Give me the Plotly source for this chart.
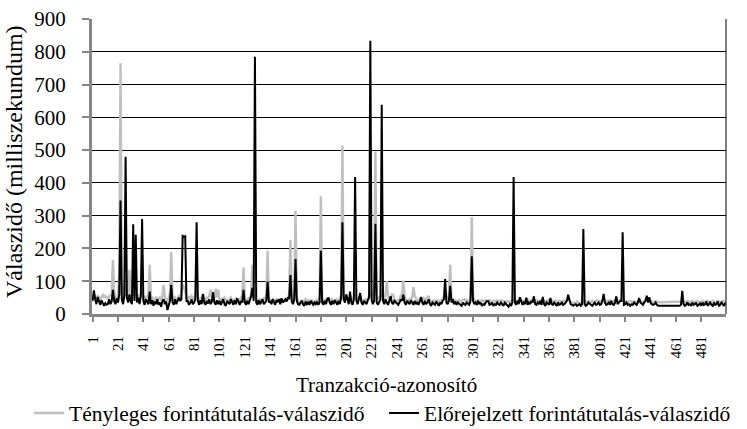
import plotly.graph_objects as go

# Transaction IDs 1..500
tranzakcio = list(range(1, 501))

# Actual response time (ms) – grey series
tenyleges = [
    55, 60, 50, 48, 55, 52, 45, 50, 58, 52, 55, 50, 48, 54, 56, 60, 165, 70, 45, 50,
    55, 120, 765, 60, 50, 90, 60, 55, 70, 135, 60, 50, 75, 55, 65, 50, 60, 45, 55, 70,
    50, 45, 55, 50, 60, 150, 55, 50, 45, 40, 50, 48, 45, 50, 42, 55, 89, 50, 45, 40,
    50, 60, 189, 55, 45, 50, 42, 48, 55, 50, 60, 90, 80, 70, 50, 45, 52, 48, 55, 50,
    45, 55, 80, 50, 45, 48, 50, 60, 45, 42, 50, 48, 55, 74, 50, 60, 48, 77, 50, 74,
    45, 40, 48, 42, 50, 45, 40, 38, 45, 50, 42, 40, 45, 48, 40, 42, 45, 50, 60, 142,
    45, 40, 42, 48, 50, 60, 150, 55, 60, 45, 40, 38, 45, 42, 40, 48, 45, 60, 194, 50,
    40, 38, 45, 42, 40, 45, 42, 40, 45, 42, 40, 38, 45, 42, 50, 60, 226, 55, 45, 60,
    316, 50, 40, 38, 35, 42, 40, 38, 45, 40, 42, 38, 40, 42, 38, 35, 40, 42, 45, 55,
    359, 50, 40, 38, 45, 42, 48, 40, 38, 45, 40, 42, 45, 40, 42, 48, 60, 514, 60, 45,
    50, 45, 40, 55, 45, 42, 50, 60, 48, 42, 50, 55, 45, 40, 42, 45, 40, 45, 55, 70,
    55, 50, 80, 496, 60, 45, 50, 55, 70, 50, 45, 60, 101, 50, 45, 50, 60, 59, 45, 40,
    40, 42, 45, 55, 60, 102, 55, 45, 42, 40, 45, 42, 50, 82, 55, 45, 40, 42, 45, 50,
    45, 48, 42, 45, 50, 55, 42, 38, 40, 42, 38, 40, 42, 38, 40, 42, 45, 50, 60, 45,
    45, 60, 150, 50, 45, 40, 42, 38, 40, 42, 38, 40, 42, 45, 40, 42, 38, 40, 50, 296,
    50, 42, 38, 40, 42, 38, 40, 42, 38, 40, 42, 38, 40, 42, 38, 35, 40, 38, 40, 42,
    38, 40, 42, 38, 40, 38, 35, 40, 38, 35, 40, 42, 45, 42, 38, 40, 42, 45, 40, 38,
    40, 38, 42, 45, 40, 38, 42, 40, 45, 38, 40, 42, 38, 40, 42, 45, 40, 38, 40, 42,
    38, 40, 42, 38, 35, 40, 38, 36, 40, 38, 35, 40, 38, 40, 42, 45, 40, 38, 35, 32,
    35, 32, 38, 35, 32, 35, 38, 40, 35, 32, 38, 40, 35, 38, 40, 35, 38, 40, 42, 38,
    40, 38, 42, 45, 40, 38, 40, 38, 42, 40, 38, 40, 42, 45, 40, 38, 42, 45, 40, 38,
    40, 38, 36, 38, 40, 38, 36, 40, 38, 36, 38, 40, 38, 36, 38, 40, 42, 45, 40, 42,
    40, 38, 36, 38, 40, 38, 36, 36, 36, 36, 36, 36, 36, 36, 36, 36, 36, 36, 36, 36,
    36, 36, 36, 36, 38, 45, 38, 36, 38, 40, 38, 36, 38, 40, 38, 36, 38, 40, 38, 36,
    38, 40, 38, 36, 38, 40, 38, 36, 38, 40, 38, 36, 38, 40, 38, 36, 38, 40, 38, 36,
]

# Predicted response time (ms) – black series
elorejelzett = [
    40, 72, 45, 30, 52, 35, 28, 42, 30, 25, 33, 28, 30, 45, 30, 38, 74, 40, 30, 48,
    35, 60, 346, 45, 30, 55, 480, 50, 35, 60, 40, 30, 274, 40, 242, 35, 50, 30, 55, 290,
    40, 28, 45, 35, 30, 68, 30, 42, 25, 38, 30, 45, 28, 35, 22, 40, 45, 30, 38, 12,
    30, 40, 89, 35, 28, 45, 30, 38, 50, 40, 45, 238, 236, 237, 40, 40, 28, 35, 45, 30,
    35, 45, 280, 40, 28, 42, 30, 61, 35, 28, 40, 32, 45, 30, 38, 67, 35, 28, 42, 30,
    40, 28, 35, 45, 30, 25, 40, 35, 30, 45, 38, 28, 42, 30, 48, 35, 28, 40, 35, 74,
    35, 28, 40, 30, 45, 55, 80, 40, 785, 35, 28, 42, 30, 38, 45, 30, 35, 40, 99, 35,
    40, 30, 45, 35, 28, 42, 38, 45, 30, 48, 35, 40, 45, 38, 50, 45, 119, 40, 30, 45,
    168, 40, 30, 28, 35, 40, 30, 25, 38, 30, 35, 28, 40, 32, 28, 35, 30, 38, 28, 35,
    193, 35, 28, 40, 30, 45, 50, 35, 28, 40, 30, 42, 35, 28, 40, 30, 50, 280, 45, 35,
    60, 40, 30, 68, 35, 28, 45, 418, 40, 30, 45, 64, 35, 28, 40, 35, 30, 42, 50, 834,
    45, 30, 40, 275, 35, 28, 40, 45, 638, 40, 30, 45, 35, 28, 40, 54, 35, 30, 40, 35,
    30, 28, 35, 45, 40, 59, 35, 28, 40, 35, 30, 42, 35, 28, 40, 30, 35, 28, 38, 51,
    35, 28, 40, 30, 35, 45, 30, 25, 35, 30, 28, 38, 30, 25, 35, 30, 40, 45, 107, 35,
    30, 40, 86, 35, 45, 30, 38, 28, 35, 30, 28, 25, 35, 30, 28, 35, 30, 28, 40, 176,
    40, 30, 35, 28, 40, 30, 35, 25, 30, 28, 35, 40, 40, 28, 30, 35, 25, 30, 28, 35,
    30, 28, 35, 30, 25, 35, 30, 28, 22, 30, 25, 35, 418, 35, 28, 40, 30, 51, 35, 28,
    35, 30, 50, 28, 35, 30, 40, 35, 54, 30, 28, 35, 30, 40, 28, 52, 30, 25, 35, 30,
    28, 49, 30, 28, 35, 30, 25, 35, 28, 30, 35, 28, 30, 35, 40, 59, 40, 30, 28, 25,
    28, 30, 25, 28, 30, 25, 30, 259, 30, 25, 28, 35, 30, 28, 25, 30, 35, 28, 30, 35,
    28, 30, 40, 61, 35, 28, 30, 35, 28, 40, 30, 28, 35, 54, 30, 35, 40, 40, 249, 28,
    30, 35, 28, 30, 25, 30, 28, 35, 30, 28, 35, 49, 35, 30, 28, 35, 40, 56, 35, 51,
    35, 30, 28, 30, 35, 28, 25, 25, 25, 25, 25, 25, 25, 25, 25, 25, 25, 25, 25, 25,
    25, 25, 25, 25, 28, 71, 30, 25, 28, 35, 28, 30, 25, 35, 28, 30, 35, 25, 28, 32,
    25, 35, 28, 30, 38, 25, 30, 35, 28, 25, 35, 28, 30, 38, 25, 28, 35, 30, 25, 35,
]

tick_labels = [str(v) for v in range(1, 500, 20)]
tick_vals = list(range(1, 500, 20))
y_ticks = list(range(0, 901, 100))

FONT = "'Liberation Serif', 'Times New Roman', Times, serif"

L, R, T, B = 92, 21, 19, 115
PW, PH = 747 - L - R, 429 - T - B


def px_x(px):
    return (px - L) / PW


def px_y(py):
    return (429 - B - py) / PH


fig = go.Figure()
fig.add_trace(go.Scatter(
    x=tranzakcio, y=tenyleges, mode="lines",
    name="Tényleges forintátutalás-válaszidő",
    line=dict(color="#BFBFBF", width=2.4),
    legend="legend",
))
fig.add_trace(go.Scatter(
    x=tranzakcio, y=elorejelzett, mode="lines",
    name="Előrejelzett forintátutalás-válaszidő",
    line=dict(color="#000000", width=2),
    legend="legend2",
))

legend_common = dict(
    orientation="h", yanchor="middle", y=px_y(413),
    font=dict(family=FONT, size=21.5, color="black"),
    bgcolor="rgba(0,0,0,0)", borderwidth=0,
)

fig.update_layout(
    width=747, height=429,
    margin=dict(l=L, r=R, t=T, b=B, autoexpand=False),
    paper_bgcolor="white", plot_bgcolor="white",
    font=dict(family=FONT, color="black"),
    showlegend=True,
    legend=dict(x=px_x(29), xanchor="left", **legend_common),
    legend2=dict(x=px_x(384), xanchor="left", **legend_common),
    xaxis=dict(
        range=[0.5, 500.5], tickmode="array", tickvals=tick_vals, ticktext=tick_labels,
        tickangle=-90, tickfont=dict(family=FONT, size=15, color="black"),
        showgrid=False, zeroline=False, automargin=False,
        showline=True, linecolor="#868686", linewidth=3,
        ticks="outside", ticklen=5, tickwidth=2, tickcolor="#868686",
        ticklabelstandoff=8,
    ),
    yaxis=dict(
        range=[0, 900], tickmode="array", tickvals=y_ticks,
        tickfont=dict(family=FONT, size=21, color="black"),
        showgrid=True, gridcolor="#000000", gridwidth=1,
        zeroline=False, automargin=False,
        showline=True, linecolor="#868686", linewidth=3,
        ticks="outside", ticklen=7, tickwidth=2, tickcolor="#868686",
        ticklabelstandoff=12,
    ),
    shapes=[
        dict(type="line", xref="paper", yref="paper", x0=1, x1=1, y0=0, y1=1,
             line=dict(color="#000000", width=1)),
    ],
    annotations=[
        dict(text="Válaszidő (milliszekundum)", xref="paper", yref="paper",
             x=px_x(14), y=px_y(162), xanchor="center", yanchor="middle",
             textangle=-90, showarrow=False,
             font=dict(family=FONT, size=24, color="black")),
        dict(text="Tranzakció-azonosító", xref="paper", yref="paper",
             x=px_x(386), y=px_y(385), xanchor="center", yanchor="middle",
             showarrow=False,
             font=dict(family=FONT, size=21, color="black")),
    ],
)

fig.write_html(
    "out.html",
    config={"displayModeBar": False, "staticPlot": True},
    post_script="document.body.style.margin='0';document.body.style.padding='0';",
)
